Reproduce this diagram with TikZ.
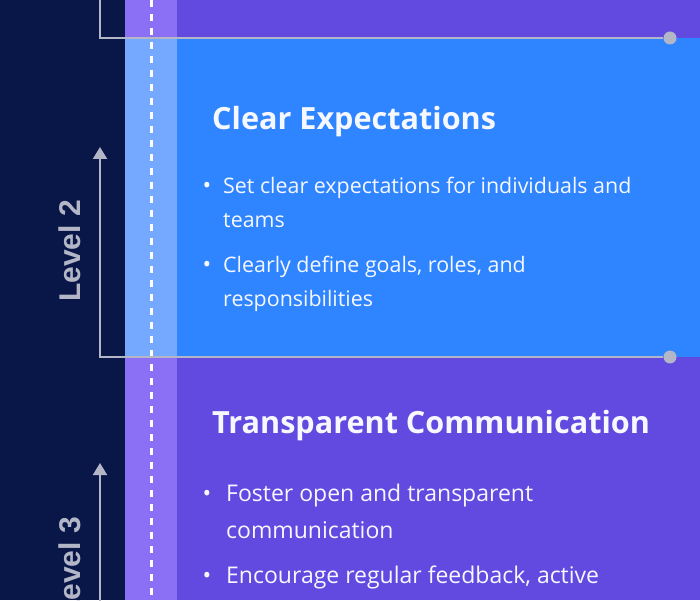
\documentclass[tikz,border=0pt]{standalone}
\usepackage{fontspec}
\setmainfont{Open Sans}
\newfontfamily\levelfont{Liberation Sans}
\usetikzlibrary{arrows.meta,positioning}
\definecolor{navyback}{RGB}{8,22,72}
\definecolor{violetband}{RGB}{98,73,224}
\definecolor{violetstrip}{RGB}{139,112,246}
\definecolor{blueband}{RGB}{47,132,255}
\definecolor{bluestrip}{RGB}{117,169,255}
\definecolor{railgray}{RGB}{178,182,198}
\definecolor{paper}{RGB}{246,248,255}
\tikzset{
  rail/.style={railgray,line width=2pt},
  railtip/.style={rail,-{Triangle[length=12pt,width=14pt]}},
  railend/.style={circle,fill=railgray,inner sep=0pt,minimum size=13pt},
  divider/.style={white,line width=3pt,dash pattern=on 7pt off 7pt},
  heading/.style={font=\fontsize{30.6}{36}\selectfont\bfseries,text=paper,anchor=base west,inner sep=0pt},
  point/.style={font=\fontsize{21.4}{30}\selectfont,text=paper,anchor=base west,inner sep=0pt},
  bigpoint/.style={point,font=\fontsize{23}{30}\selectfont},
  bullet/.style={font=\fontsize{23}{30}\selectfont,text=paper,anchor=base,inner sep=0pt},
  levelname/.style={font=\levelfont\bfseries\fontsize{30}{34}\selectfont,text=railgray,rotate=90,inner sep=0pt},
}

\begin{document}
\begin{tikzpicture}[x=1pt,y=1pt]
  \useasboundingbox (0,0) rectangle (700,600);
  \clip (0,0) rectangle (700,600);

  % bands
  \fill[navyback] (0,0) rectangle (700,600);
  \fill[violetband] (125,562) rectangle (700,600);
  \fill[blueband] (125,243) rectangle (700,562);
  \fill[violetband] (125,0) rectangle (700,243);
  \fill[violetstrip] (125,562) rectangle (177,600);
  \fill[bluestrip] (125,243) rectangle (177,562);
  \fill[violetstrip] (125,0) rectangle (177,243);
  \draw[divider] (151,600) -- (151,0);

  % rails
  \node[railend] (end1) at (670,562) {};
  \node[railend] (end2) at (670,243) {};
  \coordinate (turn1) at (100,562);
  \coordinate (top1) at (100,610);
  \coordinate (turn2) at (100,243);
  \coordinate (tip2) at (100,453);
  \coordinate (foot3) at (100,-10);
  \coordinate (tip3) at (100,137);
  \draw[rail] (end1) -- (turn1) -- (top1);
  \draw[railtip] (end2) -- (turn2) -- (tip2);
  \draw[railtip] (foot3) -- (tip3);
  \node[levelname] (lvl2) at (70,349) {Level 2};
  \node[levelname] (lvl3) at (70,32) {Level 3};

  % level 2
  \node[heading] (head2) at (212,470.7) {Clear Expectations};
  \node[bullet] (b21) at (207,406) {•};
  \node[point] (p21a) at (223,406) {Set clear expectations for individuals and};
  \node[point] (p21b) at (223,372) {teams};
  \node[bullet] (b22) at (207,327.3) {•};
  \node[point] (p22a) at (223,327.3) {Clearly define goals, roles, and};
  \node[point] (p22b) at (223,294) {responsibilities};

  % level 3
  \node[heading] (head3) at (212,166.7) {Transparent Communication};
  \node[bullet] (b31) at (207,98.3) {•};
  \node[bigpoint] (p31a) at (226,98.3) {Foster open and transparent};
  \node[bigpoint] (p31b) at (226,61.7) {communication};
  \node[bullet] (b32) at (207,16.7) {•};
  \node[bigpoint] (p32a) at (226,16.7) {Encourage regular feedback, active};
\end{tikzpicture}
\end{document}
